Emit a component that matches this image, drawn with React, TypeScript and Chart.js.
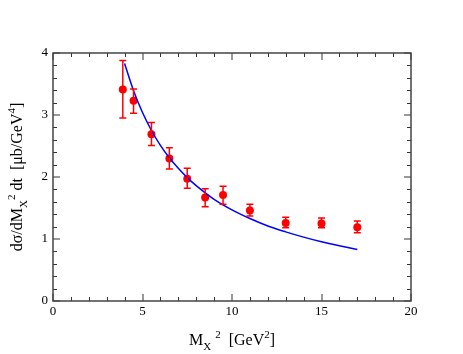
import React, { useEffect, useRef } from "react";
import { Chart, registerables } from "chart.js";

Chart.register(...registerables);

// Data points: M_X^2 [GeV^2], dσ/dM_X^2 dt [μb/GeV^4]
const dataX = [3.9, 4.5, 5.5, 6.5, 7.5, 8.5, 9.5, 11, 13, 15, 17];
const dataY = [3.41, 3.23, 2.69, 2.3, 1.97, 1.67, 1.71, 1.46, 1.26, 1.25, 1.19];
const dataHigh = [3.88, 3.42, 2.88, 2.47, 2.14, 1.81, 1.85, 1.56, 1.35, 1.34, 1.29];
const dataLow = [2.95, 3.03, 2.51, 2.13, 1.82, 1.52, 1.56, 1.37, 1.18, 1.18, 1.1];

// Model curve
const curveX = [4, 4.5, 5, 5.5, 6, 6.5, 7, 7.5, 8, 9, 10, 11, 12, 13, 14, 15, 16, 17];
const curveY = [3.83, 3.39, 3.04, 2.75, 2.51, 2.31, 2.14, 1.99, 1.86, 1.64, 1.47, 1.33, 1.21, 1.115, 1.03, 0.955, 0.89, 0.83];

const xMin = 0, xMax = 20, xMajor = 5, xMinor = 1;
const yMin = 0, yMax = 4, yMajor = 1, yMinor = 0.2;

const SERIF = '"Liberation Serif", "DejaVu Serif", serif';

type Seg = { t: string; k?: "sub" | "sup" };

function drawRich(ctx: CanvasRenderingContext2D, segs: Seg[], cx: number, baseY: number, size: number, small: number) {
  const widths = segs.map((s) => {
    ctx.font = `${s.k ? small : size}px ${SERIF}`;
    return ctx.measureText(s.t).width;
  });
  const total = widths.reduce((a, b) => a + b, 0);
  let x = cx - total / 2;
  segs.forEach((s, i) => {
    ctx.font = `${s.k ? small : size}px ${SERIF}`;
    let y = baseY;
    if (s.k === "sub") y += size * 0.3;
    if (s.k === "sup") y -= size * 0.45;
    ctx.fillText(s.t, x, y);
    x += widths[i];
  });
}

const framePlugin = {
  id: "frameTicks",
  afterDatasetsDraw(chart: any) {
    const ctx = chart.ctx as CanvasRenderingContext2D;
    const xs = chart.scales.x, ys = chart.scales.y;
    ctx.save();
    ctx.strokeStyle = "#ff0000";
    ctx.lineWidth = 1.5;
    dataX.forEach((vx, i) => {
      const px = xs.getPixelForValue(vx);
      const ph = ys.getPixelForValue(dataHigh[i]);
      const pl = ys.getPixelForValue(dataLow[i]);
      ctx.beginPath();
      ctx.moveTo(px, ph); ctx.lineTo(px, pl);
      ctx.moveTo(px - 3.5, ph); ctx.lineTo(px + 3.5, ph);
      ctx.moveTo(px - 3.5, pl); ctx.lineTo(px + 3.5, pl);
      ctx.stroke();
    });
    ctx.restore();
  },
  afterDraw(chart: any) {
    const ctx = chart.ctx as CanvasRenderingContext2D;
    const xs = chart.scales.x, ys = chart.scales.y;
    const { left, right, top, bottom } = chart.chartArea;
    ctx.save();
    ctx.strokeStyle = "#333333";
    ctx.lineWidth = 1;
    ctx.beginPath();
    for (let v = xMin; v <= xMax + 1e-9; v += xMinor) {
      if (Math.abs(v / xMajor - Math.round(v / xMajor)) < 1e-6) continue;
      const p = Math.round(xs.getPixelForValue(v)) + 0.5;
      ctx.moveTo(p, bottom); ctx.lineTo(p, bottom - 4);
      ctx.moveTo(p, top); ctx.lineTo(p, top + 4);
    }
    for (let v = yMin; v <= yMax + 1e-9; v += yMinor) {
      if (Math.abs(v / yMajor - Math.round(v / yMajor)) < 1e-6) continue;
      const p = Math.round(ys.getPixelForValue(v)) + 0.5;
      ctx.moveTo(left, p); ctx.lineTo(left + 4, p);
      ctx.moveTo(right, p); ctx.lineTo(right - 4, p);
    }
    ctx.stroke();
    ctx.strokeStyle = "#999999";
    ctx.lineWidth = 2;
    ctx.beginPath();
    for (let v = xMin; v <= xMax + 1e-9; v += xMajor) {
      const p = Math.round(xs.getPixelForValue(v));
      ctx.moveTo(p, bottom); ctx.lineTo(p, bottom - 7);
      ctx.moveTo(p, top); ctx.lineTo(p, top + 7);
    }
    for (let v = yMin; v <= yMax + 1e-9; v += yMajor) {
      const p = Math.round(ys.getPixelForValue(v));
      ctx.moveTo(left, p); ctx.lineTo(left + 7, p);
      ctx.moveTo(right, p); ctx.lineTo(right - 7, p);
    }
    ctx.stroke();
    ctx.strokeStyle = "#444444";
    ctx.lineWidth = 1.5;
    ctx.strokeRect(left, top, right - left, bottom - top);

    ctx.fillStyle = "#000000";
    ctx.textAlign = "left";
    ctx.textBaseline = "alphabetic";
    drawRich(
      ctx,
      [
        { t: "M" },
        { t: "X", k: "sub" },
        { t: " " },
        { t: "2", k: "sup" },
        { t: "  [GeV" },
        { t: "2", k: "sup" },
        { t: "]" },
      ],
      (left + right) / 2,
      345,
      16,
      11
    );
    ctx.save();
    ctx.translate(22, (top + bottom) / 2);
    ctx.rotate(-Math.PI / 2);
    drawRich(
      ctx,
      [
        { t: "dσ/dM" },
        { t: "X", k: "sub" },
        { t: "2", k: "sup" },
        { t: " dt  [μb/GeV" },
        { t: "4", k: "sup" },
        { t: "]" },
      ],
      0,
      0,
      16,
      11
    );
    ctx.restore();
    ctx.restore();
  },
};

export default function App() {
  const ref = useRef<HTMLCanvasElement>(null);
  useEffect(() => {
    if (!ref.current) return;
    const chart = new Chart(ref.current, {
      type: "scatter",
      data: {
        datasets: [
          {
            type: "line",
            data: curveX.map((x, i) => ({ x, y: curveY[i] })),
            borderColor: "#0000ff",
            borderWidth: 1.5,
            pointRadius: 0,
            cubicInterpolationMode: "monotone",
            fill: false,
          } as any,
          {
            type: "scatter",
            data: dataX.map((x, i) => ({ x, y: dataY[i] })),
            backgroundColor: "#ff0000",
            borderColor: "#ff0000",
            pointRadius: 4,
            pointBorderWidth: 0,
          } as any,
        ],
      },
      options: {
        responsive: false,
        animation: false,
        layout: { padding: { left: 0, right: 52, top: 53, bottom: 0 } },
        plugins: { legend: { display: false }, tooltip: { enabled: false } },
        scales: {
          x: {
            type: "linear",
            min: xMin,
            max: xMax,
            grid: { display: false, drawTicks: false },
            border: { display: false },
            ticks: {
              stepSize: xMajor,
              color: "#000",
              font: { family: SERIF, size: 13 },
              padding: 3,
              maxRotation: 0,
            },
            afterFit: (s: any) => { s.height = 53; },
          },
          y: {
            type: "linear",
            min: yMin,
            max: yMax,
            grid: { display: false, drawTicks: false },
            border: { display: false },
            ticks: {
              stepSize: yMajor,
              color: "#000",
              font: { family: SERIF, size: 13 },
              padding: 5,
            },
            afterFit: (s: any) => { s.width = 53; },
          },
        },
      },
      plugins: [framePlugin],
    });
    return () => chart.destroy();
  }, []);
  return (
    <div style={{ position: "absolute", left: 0, top: 0, width: 463, height: 354, background: "#fff" }}>
      <canvas ref={ref} width={463} height={354} style={{ width: 463, height: 354 }} />
    </div>
  );
}
